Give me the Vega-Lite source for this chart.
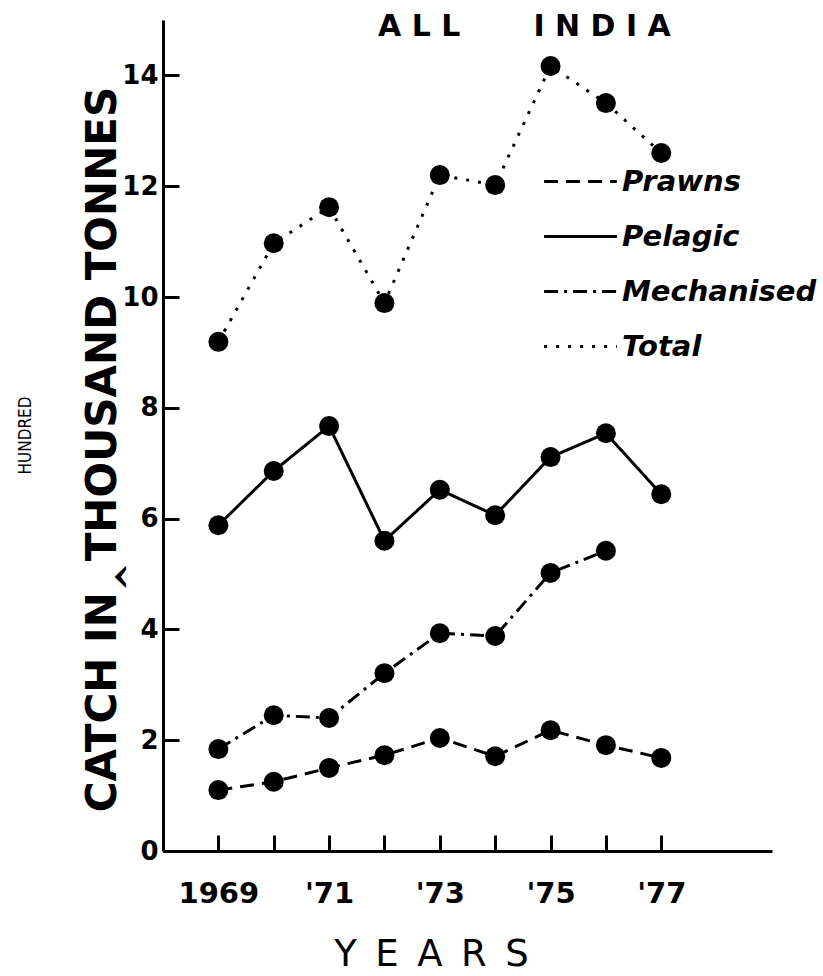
{
  "$schema": "https://vega.github.io/schema/vega-lite/v6.json",
  "width": 609,
  "height": 831,
  "autosize": {"type": "none"},
  "padding": {"left": 163, "top": 20, "right": 51, "bottom": 125},
  "background": "white",
  "config": {"view": {"stroke": null}, "font": "DejaVu Sans"},
  "title": {"text": "A\u00a0L\u00a0L\u00a0\u00a0\u00a0\u00a0\u00a0\u00a0\u00a0I\u00a0N\u00a0D\u00a0I\u00a0A", "font": "DejaVu Sans", "fontWeight": "bold", "fontSize": 30, "anchor": "start", "frame": "group", "dx": 215, "dy": 46, "offset": 0, "baseline": "alphabetic", "color": "black"},
  "data": {"values": [
    {"series": "Prawns", "year": 1969, "catch": 1.10},
    {"series": "Prawns", "year": 1970, "catch": 1.25},
    {"series": "Prawns", "year": 1971, "catch": 1.50},
    {"series": "Prawns", "year": 1972, "catch": 1.73},
    {"series": "Prawns", "year": 1973, "catch": 2.04},
    {"series": "Prawns", "year": 1974, "catch": 1.71},
    {"series": "Prawns", "year": 1975, "catch": 2.18},
    {"series": "Prawns", "year": 1976, "catch": 1.91},
    {"series": "Prawns", "year": 1977, "catch": 1.68},
    {"series": "Pelagic", "year": 1969, "catch": 5.88},
    {"series": "Pelagic", "year": 1970, "catch": 6.86},
    {"series": "Pelagic", "year": 1971, "catch": 7.67},
    {"series": "Pelagic", "year": 1972, "catch": 5.60},
    {"series": "Pelagic", "year": 1973, "catch": 6.52},
    {"series": "Pelagic", "year": 1974, "catch": 6.06},
    {"series": "Pelagic", "year": 1975, "catch": 7.11},
    {"series": "Pelagic", "year": 1976, "catch": 7.54},
    {"series": "Pelagic", "year": 1977, "catch": 6.44},
    {"series": "Mechanised", "year": 1969, "catch": 1.84},
    {"series": "Mechanised", "year": 1970, "catch": 2.45},
    {"series": "Mechanised", "year": 1971, "catch": 2.40},
    {"series": "Mechanised", "year": 1972, "catch": 3.21},
    {"series": "Mechanised", "year": 1973, "catch": 3.93},
    {"series": "Mechanised", "year": 1974, "catch": 3.88},
    {"series": "Mechanised", "year": 1975, "catch": 5.02},
    {"series": "Mechanised", "year": 1976, "catch": 5.42},
    {"series": "Total", "year": 1969, "catch": 9.19},
    {"series": "Total", "year": 1970, "catch": 10.97},
    {"series": "Total", "year": 1971, "catch": 11.62},
    {"series": "Total", "year": 1972, "catch": 9.89},
    {"series": "Total", "year": 1973, "catch": 12.20},
    {"series": "Total", "year": 1974, "catch": 12.02},
    {"series": "Total", "year": 1975, "catch": 14.17},
    {"series": "Total", "year": 1976, "catch": 13.50},
    {"series": "Total", "year": 1977, "catch": 12.60}
  ]},
  "layer": [
    {
      "mark": {"type": "line", "color": "black", "strokeWidth": 3, "strokeCap": "butt"},
      "encoding": {
        "x": {"field": "year", "type": "quantitative", "scale": {"domain": [1968, 1979], "nice": false, "zero": false},
          "axis": {"values": [1969, 1970, 1971, 1972, 1973, 1974, 1975, 1976, 1977],
            "labelExpr": "datum.value == 1969 ? '1969' : (datum.value % 2 == 1 ? \"'\" + slice(toString(datum.value), 2) : '')",
            "tickSize": -16, "tickWidth": 3, "tickColor": "black", "domainColor": "black", "domainWidth": 3,
            "labelFont": "DejaVu Sans", "labelFontWeight": "bold", "labelFontSize": 29, "labelColor": "black", "labelPadding": 44,
            "labelFlush": false, "labelOverlap": false, "grid": false,
            "title": "Y\u2002E\u2002A\u2002R\u2002S", "titleFont": "DejaVu Sans", "titleFontWeight": "normal", "titleFontSize": 37, "titleColor": "black",
            "titleX": 268, "titleY": 114, "titleBaseline": "alphabetic", "titleAlign": "center"}},
        "y": {"field": "catch", "type": "quantitative", "scale": {"domain": [0, 15], "nice": false},
          "axis": {"values": [0, 2, 4, 6, 8, 10, 12, 14], "orient": "left",
            "tickSize": -16, "tickWidth": 3, "tickColor": "black", "domainColor": "black", "domainWidth": 3,
            "labelFont": "DejaVu Sans", "labelFontWeight": "bold", "labelFontSize": 26, "labelColor": "black", "labelPadding": 21, "grid": false,
            "title": "CATCH IN‸THOUSAND TONNES", "titleFont": "DejaVu Sans", "titleFontWeight": "bold", "titleFontSize": 42, "titleColor": "black",
            "titleX": -48, "titleY": 429, "titleAngle": 270, "titleBaseline": "alphabetic", "titleAlign": "center"}},
        "strokeDash": {"field": "series", "type": "nominal",
          "scale": {"domain": ["Prawns", "Pelagic", "Mechanised", "Total"], "range": [[14, 8], [1, 0], [14, 6, 3, 6], [3, 9]]},
          "legend": {"orient": "none", "legendX": 390, "legendY": 134, "title": null, "symbolType": "M-1.4,0H1.4", "symbolSize": 2704,
            "symbolStrokeWidth": 3, "symbolStrokeColor": "black", "labelFont": "DejaVu Sans", "labelFontWeight": "bold", "labelFontStyle": "italic",
            "labelFontSize": 29, "labelColor": "black", "labelLimit": 400, "labelOffset": 14, "rowPadding": 12}}
      }
    },
    {
      "mark": {"type": "point", "filled": true, "color": "black", "size": 400, "opacity": 1},
      "encoding": {
        "x": {"field": "year", "type": "quantitative"},
        "y": {"field": "catch", "type": "quantitative",
          "axis": {"orient": "left", "labels": false, "ticks": false, "domain": false, "grid": false,
            "title": "HUNDRED", "titleFont": "DejaVu Sans Condensed, DejaVu Sans", "titleFontWeight": "normal", "titleFontSize": 17, "titleColor": "black",
            "titleX": -133, "titleY": 415, "titleAngle": 270, "titleBaseline": "alphabetic", "titleAlign": "center"}},
        "detail": {"field": "series", "type": "nominal"}
      }
    }
  ],
  "resolve": {"axis": {"y": "independent"}}
}
